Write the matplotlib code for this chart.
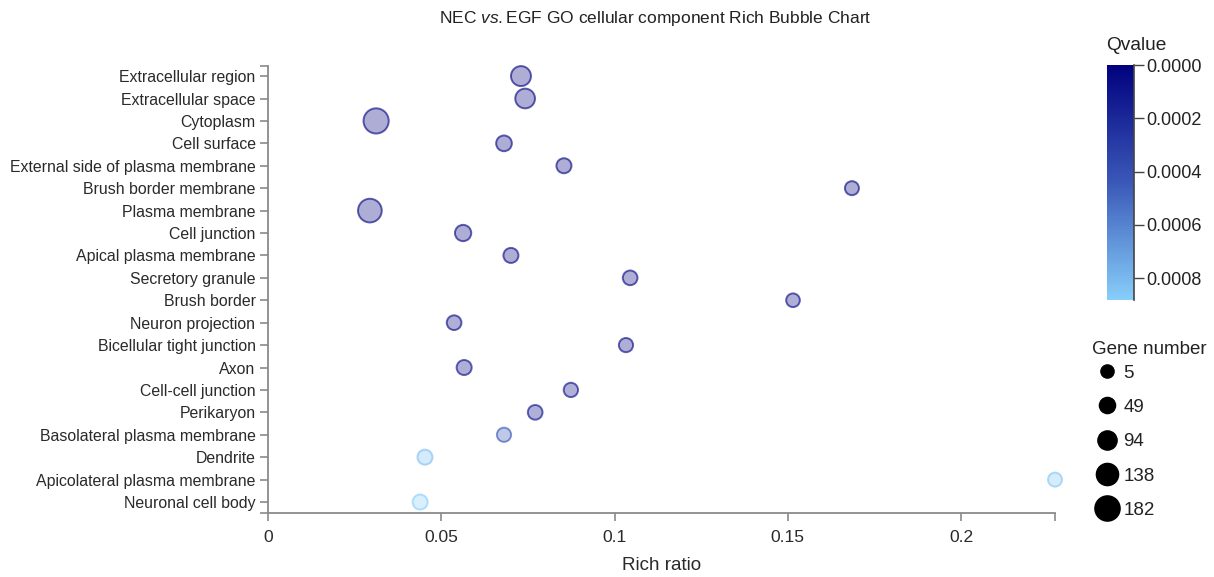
import matplotlib
matplotlib.use("Agg")
import matplotlib.pyplot as plt
import numpy as np
from matplotlib.colors import LinearSegmentedColormap, Normalize
from matplotlib.cm import ScalarMappable
from matplotlib.lines import Line2D

plt.rcParams['font.family'] = ['Liberation Sans', 'DejaVu Sans']
plt.rcParams['mathtext.fontset'] = 'custom'
plt.rcParams['mathtext.rm'] = 'Liberation Sans'
plt.rcParams['mathtext.it'] = 'Liberation Sans:italic'

categories = ["Extracellular region", "Extracellular space", "Cytoplasm", "Cell surface",
              "External side of plasma membrane", "Brush border membrane", "Plasma membrane",
              "Cell junction", "Apical plasma membrane", "Secretory granule", "Brush border",
              "Neuron projection", "Bicellular tight junction", "Axon", "Cell-cell junction",
              "Perikaryon", "Basolateral plasma membrane", "Dendrite",
              "Apicolateral plasma membrane", "Neuronal cell body"]
rich_ratio = [0.0730, 0.0742, 0.0312, 0.0681, 0.0854, 0.1685, 0.0294, 0.0563, 0.0701, 0.1045,
              0.1515, 0.0537, 0.1033, 0.0566, 0.0874, 0.0771, 0.0681, 0.0453, 0.2271, 0.0439]
gene_number = [105, 101, 182, 42, 32, 17, 160, 51, 32, 27,
               12, 27, 20, 32, 22, 27, 20, 32, 17, 32]
qvalue = [0.0, 0.0, 0.0, 0.0, 0.0, 0.00001, 0.0, 0.00001, 0.00001, 0.00002,
          0.00002, 0.00002, 0.00003, 0.00003, 0.00004, 0.00005, 0.00042, 0.00082, 0.00085, 0.00088]
legend_sizes = [5, 49, 94, 138, 182]
x_ticks = [0, 0.05, 0.1, 0.15, 0.2]
x_ticklabels = ["0", "0.05", "0.1", "0.15", "0.2"]
cbar_ticks = [0.0, 0.0002, 0.0004, 0.0006, 0.0008]
cbar_ticklabels = ["0.0000", "0.0002", "0.0004", "0.0006", "0.0008"]
q_max = 0.000882

def diam_pt(v):
    px = 13.2 + (np.asarray(v, dtype=float) - 5) * 0.0678
    return px * 0.72

cmap = LinearSegmentedColormap.from_list("q", ["#01017f", "#3a58b8", "#87cefa"])
norm = Normalize(vmin=0, vmax=q_max)

fig = plt.figure(figsize=(12.14, 5.77), dpi=100)
ax = fig.add_axes([268/1214, 1-513/577, 787/1214, 447/577])

ypos = np.arange(len(categories))
base = cmap(norm(np.array(qvalue)))
face = base.copy(); face[:, 3] = 0.32
edge = base.copy(); edge[:, 3] = 0.62
ax.scatter(rich_ratio, ypos, s=diam_pt(gene_number)**2, c=face, edgecolors=edge,
           linewidths=1.4, zorder=3, clip_on=False)

ax.set_ylim(len(categories) - 1 + 0.49, -0.45)
ax.set_xlim(0, max(rich_ratio))
ax.set_yticks(ypos)
ax.set_yticklabels(categories)
ax.set_xticks(x_ticks)
ax.set_xticklabels(x_ticklabels)
ax.set_xticks([max(rich_ratio)], minor=True)
ax.set_yticks([len(categories) - 1 + 0.49, -0.45], minor=True)

axis_col = '#8a8a8a'
for s in ['top', 'right']:
    ax.spines[s].set_visible(False)
for s in ['left', 'bottom']:
    ax.spines[s].set_color(axis_col)
    ax.spines[s].set_linewidth(1.3)
ax.tick_params(axis='both', which='both', color=axis_col, width=1.2, length=6)
ax.tick_params(axis='y', labelsize=11.4, labelcolor='#2a2a2a', pad=3)
ax.tick_params(axis='x', labelsize=12.6, labelcolor='#2a2a2a', pad=6)
ax.set_xlabel("Rich ratio", fontsize=13.5, color='#2a2a2a', labelpad=9)

fig.text(655/1214, 1-18/577, r"NEC $\it{vs.}$EGF GO cellular component Rich Bubble Chart",
         ha='center', va='center', fontsize=12.5, color='#222222')

# colorbar
cax = fig.add_axes([1107/1214, 1-300/577, 27/1214, 235/577])
sm = ScalarMappable(norm=norm, cmap=cmap)
cb = fig.colorbar(sm, cax=cax)
cb.outline.set_visible(False)
cax.invert_yaxis()
cb.set_ticks(cbar_ticks)
cb.set_ticklabels(cbar_ticklabels)
cax.tick_params(labelsize=13, labelcolor='#222222', color='#444444', length=7, width=1, pad=2)
cax.plot([1, 1], [0, 1], transform=cax.transAxes, color='#444444', lw=1.2, clip_on=False)
fig.text(1136/1214, 1-45/577, "Qvalue", ha='center', va='center', fontsize=13.8, color='#222222')

# size legend
fig.text(1149/1214, 1-349/577, "Gene number", ha='center', va='center', fontsize=13.5,
         color='#222222')
handles = [Line2D([], [], marker='o', ls='', color='black', markersize=float(diam_pt(v)))
           for v in legend_sizes]
leg = fig.legend(handles, [str(v) for v in legend_sizes], loc='upper left',
                 bbox_to_anchor=(1085/1214, 1-355/577), frameon=False,
                 fontsize=13.5, labelspacing=0.92, handletextpad=0.25, handlelength=1.3,
                 borderpad=0)
for t in leg.get_texts():
    t.set_color('#222222')

fig.savefig("out.png", dpi=100)
